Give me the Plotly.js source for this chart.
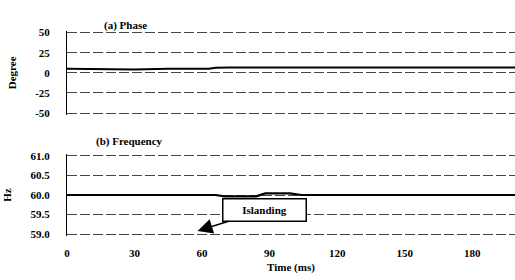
<!DOCTYPE html>
<html><head><meta charset="utf-8">
<script src="https://cdn.plot.ly/plotly-3.0.1.min.js"></script>
<style>html,body{margin:0;padding:0;background:#fff}#chart{width:515px;height:280px}</style>
</head><body><div id="chart"></div>
<script>
const phaseTime = [0, 30, 45, 63, 66, 72, 199];
const phaseDeg  = [5, 4.2, 5, 5, 6.2, 6.5, 6.5];
const freqTime  = [0, 66, 70, 84, 88, 99, 104, 199];
const freqHz    = [60.0, 60.0, 59.965, 59.965, 60.04, 60.04, 60.0, 60.0];
const xTicks    = [0, 30, 60, 90, 120, 150, 180];
const phaseTicks = [-50, -25, 0, 25, 50];
const freqTicks  = [59.0, 59.5, 60.0, 60.5, 61.0];
const islandT = 58, islandF = 59.08;

const fam = '"Liberation Serif", "DejaVu Serif", serif';
const bfont = {family: fam, size: 11, color: '#000', weight: 'bold'};
const grid = {showgrid: true, gridcolor: '#444', gridwidth: 1, griddash: '10px,3px', zeroline: false};

const traces = [
  {x: phaseTime, y: phaseDeg, xaxis: 'x', yaxis: 'y', mode: 'lines', line: {color: '#000', width: 2}, hoverinfo: 'skip'},
  {x: freqTime, y: freqHz, xaxis: 'x2', yaxis: 'y2', mode: 'lines', line: {color: '#000', width: 2.2}, hoverinfo: 'skip'}
];

const layout = {
  width: 515, height: 280,
  margin: {l: 67, r: 0, t: 31, b: 44},
  paper_bgcolor: '#fff', plot_bgcolor: '#fff',
  showlegend: false,
  font: bfont,
  xaxis: {domain: [0, 1], range: [0, 199], showticklabels: false, showgrid: false, zeroline: false, anchor: 'y'},
  yaxis: Object.assign({}, grid, {domain: [0.592, 1], range: [-52, 52], tickvals: phaseTicks, ticktext: phaseTicks.map(String),
    showline: true, linecolor: '#000', linewidth: 1, ticks: 'outside', ticklen: 14, tickcolor: 'rgba(0,0,0,0)', anchor: 'x',
    tickfont: bfont,
    title: {text: 'Degree', font: bfont, standoff: 16}}),
  xaxis2: {domain: [0, 1], range: [0, 199], tickvals: xTicks, ticktext: xTicks.map(String), showgrid: false, zeroline: false,
    anchor: 'y2', ticks: 'outside', ticklen: 7, tickcolor: 'rgba(0,0,0,0)', showline: false, tickfont: bfont,
    title: {text: 'Time (ms)', font: bfont, standoff: 5}},
  yaxis2: Object.assign({}, grid, {domain: [0, 0.4], range: [58.95, 61.05], tickvals: freqTicks, ticktext: freqTicks.map(v => v.toFixed(1)),
    showline: true, linecolor: '#000', linewidth: 1, ticks: 'outside', ticklen: 14, tickcolor: 'rgba(0,0,0,0)', anchor: 'x2',
    tickfont: bfont,
    title: {text: 'Hz', font: bfont, standoff: 16}}),
  annotations: [
    {text: '(a) Phase', xref: 'paper', yref: 'paper', x: 0.13, xanchor: 'center', y: 1.0, yshift: 14, showarrow: false, font: bfont},
    {text: '(b) Frequency', xref: 'paper', yref: 'paper', x: 0.14, xanchor: 'center', y: 0.4, yshift: 13, showarrow: false, font: bfont},
    {text: 'Islanding', xref: 'x2', yref: 'y2', x: islandT, y: islandF, ax: 67, ay: -21,
      showarrow: true, arrowhead: 2, arrowsize: 2, arrowwidth: 1.5, arrowcolor: '#000',
      bordercolor: '#000', borderwidth: 1.5, bgcolor: '#fff', width: 80, height: 19, font: bfont}
  ]
};

Plotly.newPlot('chart', traces, layout, {staticPlot: true, displayModeBar: false});
</script>
</body></html>
